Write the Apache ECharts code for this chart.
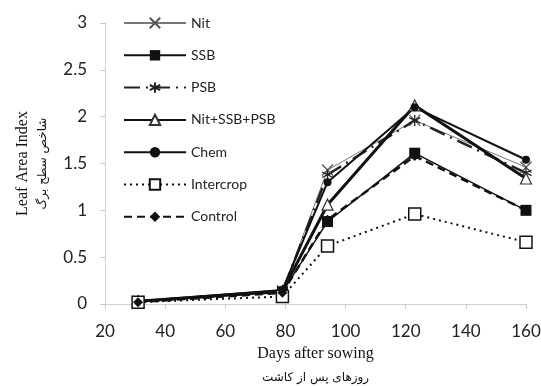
<!DOCTYPE html>
<html>
<head>
<meta charset="utf-8">
<script src="https://cdn.jsdelivr.net/npm/echarts@6/dist/echarts.min.js"></script>
<style>
  html, body { margin: 0; padding: 0; background: #fff; }
  #chart { width: 541px; height: 386px; }
</style>
</head>
<body>
<div id="chart"></div>
<script>
// Leaf area index over days after sowing, per treatment
const days = [31, 79, 94, 123, 160];
const nit = [0.03, 0.14, 1.43, 1.96, 1.46];
const ssb = [0.02, 0.13, 0.88, 1.61, 1.00];
const psb = [0.03, 0.13, 1.38, 1.96, 1.40];
const nitSsbPsb = [0.03, 0.14, 1.06, 2.12, 1.34];
const chem = [0.03, 0.15, 1.30, 2.10, 1.54];
const intercrop = [0.02, 0.08, 0.62, 0.96, 0.66];
const control = [0.02, 0.12, 0.90, 1.58, 1.00];

const xTitle = 'Days after sowing';
const xTitleFa = 'روزهای پس از کاشت';
const yTitle = 'Leaf Area Index';
const yTitleFa = 'شاخص سطح برگ';

const pairs = vals => days.map((d, i) => [d, vals[i]]);

const crossPath = 'path://M0,0L10,10M10,0L0,10';
const starPath = 'path://M5,0L5,10M0.7,2.5L9.3,7.5M0.7,7.5L9.3,2.5';

const seriesDefs = [
  { name: 'Nit', data: nit, symbol: crossPath, symbolSize: 11,
    line: { color: '#777', width: 1, type: 'solid' },
    item: { color: 'rgba(0,0,0,0)', borderColor: '#555', borderWidth: 1.3 } },
  { name: 'SSB', data: ssb, symbol: 'rect', symbolSize: 11,
    line: { color: '#111', width: 1.5, type: 'solid' },
    item: { color: '#111', borderColor: '#111', borderWidth: 0 } },
  { name: 'PSB', data: psb, symbol: starPath, symbolSize: 11,
    line: { color: '#222', width: 2.5, type: [16, 6, 2, 6] },
    item: { color: 'rgba(0,0,0,0)', borderColor: '#222', borderWidth: 1.3 } },
  { name: 'Nit+SSB+PSB', data: nitSsbPsb, symbol: 'triangle', symbolSize: 11,
    line: { color: '#111', width: 3, type: 'solid' },
    item: { color: '#fff', borderColor: '#333', borderWidth: 1.2 } },
  { name: 'Chem', data: chem, symbol: 'circle', symbolSize: 8,
    line: { color: '#111', width: 2, type: 'solid' },
    item: { color: '#111', borderColor: '#111', borderWidth: 0 } },
  { name: 'Intercrop', data: intercrop, symbol: 'rect', symbolSize: 12,
    line: { color: '#111', width: 2, type: [2, 4] },
    item: { color: '#fff', borderColor: '#111', borderWidth: 1.5 } },
  { name: 'Control', data: control, symbol: 'diamond', symbolSize: 10,
    line: { color: '#111', width: 2.5, type: [8, 5] },
    item: { color: '#111', borderColor: '#111', borderWidth: 0 } }
];

const chart = echarts.init(document.getElementById('chart'), null, { renderer: 'canvas' });

const tickFont = 'Lato, "Noto Sans", sans-serif';

const option = {
  animation: false,
  backgroundColor: '#fff',
  grid: { left: 105, right: 15, top: 23, bottom: 82, containLabel: false, outerBoundsMode: 'none' },
  legend: {
    orient: 'vertical',
    left: 118,
    top: 11,
    itemWidth: 62,
    itemHeight: 13,
    itemGap: 18.3,
    textStyle: { fontFamily: tickFont, fontSize: 14, color: '#222' },
    data: seriesDefs.map(s => s.name)
  },
  xAxis: {
    type: 'value',
    min: 20, max: 160, interval: 20,
    name: '{a|' + xTitle + '}\n{b|' + xTitleFa + '}',
    nameLocation: 'middle',
    nameGap: 38,
    nameTextStyle: {
      verticalAlign: 'top',
      rich: {
        a: { fontFamily: '"Liberation Serif", "DejaVu Serif", serif', fontSize: 16, color: '#111', lineHeight: 24 },
        b: { fontFamily: '"DejaVu Sans", sans-serif', fontSize: 12, color: '#111', lineHeight: 24 }
      }
    },
    axisLine: { show: true, lineStyle: { color: '#d0d0d0', width: 1 } },
    axisTick: { show: true, length: 5, lineStyle: { color: '#c8c8c8' } },
    axisLabel: { fontFamily: tickFont, fontSize: 17, color: '#222', margin: 19 },
    splitLine: { show: false }
  },
  yAxis: {
    type: 'value',
    min: 0, max: 3, interval: 0.5,
    name: '{a|' + yTitle + '}\n{b|' + yTitleFa + '}',
    nameLocation: 'middle',
    nameGap: 52,
    nameRotate: 90,
    nameTextStyle: {
      rich: {
        a: { fontFamily: '"Liberation Serif", "DejaVu Serif", serif', fontSize: 16, color: '#111', lineHeight: 20 },
        b: { fontFamily: '"DejaVu Sans", sans-serif', fontSize: 12, color: '#111', lineHeight: 20 }
      }
    },
    axisLine: { show: true, lineStyle: { color: '#d0d0d0', width: 1 } },
    axisTick: { show: true, length: 5, lineStyle: { color: '#c8c8c8' } },
    axisLabel: { fontFamily: tickFont, fontSize: 17, color: '#222', margin: 18 },
    splitLine: { show: false }
  },
  series: seriesDefs.map(s => ({
    name: s.name,
    type: 'line',
    data: pairs(s.data),
    symbol: s.symbol,
    symbolSize: s.symbolSize,
    showAllSymbol: true,
    lineStyle: s.line,
    itemStyle: s.item,
    emphasis: { disabled: true }
  }))
};

chart.setOption(option);
</script>
</body>
</html>
